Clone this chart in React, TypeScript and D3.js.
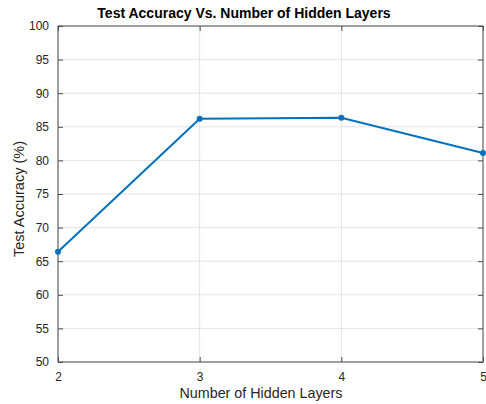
import { useEffect, useRef } from "react";
import * as d3 from "d3";

// data
const hiddenLayers = [2, 3, 4, 5];
const testAccuracy = [66.4, 86.2, 86.35, 81.1];
const xTicks = [2, 3, 4, 5];
const yTicks = [50, 55, 60, 65, 70, 75, 80, 85, 90, 95, 100];

const App = () => {
  const svgRef = useRef<SVGSVGElement>(null);

  useEffect(() => {
    if (!svgRef.current) return;
    const width = 486;
    const height = 404;
    const margin = { top: 26, right: 3, bottom: 42, left: 58 };
    const innerW = width - margin.left - margin.right;
    const innerH = height - margin.top - margin.bottom;

    const svg = d3.select(svgRef.current);
    svg.selectAll("*").remove();
    svg
      .attr("width", width)
      .attr("height", height)
      .style("font-family", "Arial, 'Liberation Sans', sans-serif");

    const x = d3.scaleLinear().domain([2, 5]).range([0, innerW]);
    const y = d3.scaleLinear().domain([50, 100]).range([innerH, 0]);

    const g = svg
      .append("g")
      .attr("transform", `translate(${margin.left},${margin.top})`);

    // grid
    g.append("g")
      .selectAll("line")
      .data(yTicks)
      .join("line")
      .attr("x1", 0)
      .attr("x2", innerW)
      .attr("y1", (d) => y(d))
      .attr("y2", (d) => y(d))
      .attr("stroke", "#e3e3e3")
      .attr("stroke-width", 1);
    g.append("g")
      .selectAll("line")
      .data(xTicks)
      .join("line")
      .attr("x1", (d) => x(d))
      .attr("x2", (d) => x(d))
      .attr("y1", 0)
      .attr("y2", innerH)
      .attr("stroke", "#e3e3e3")
      .attr("stroke-width", 1);

    const axisColor = "#4d4d4d";
    // box
    g.append("rect")
      .attr("width", innerW)
      .attr("height", innerH)
      .attr("fill", "none")
      .attr("stroke", axisColor)
      .attr("stroke-width", 1);

    // axes with inward ticks
    const styleAxis = (sel: d3.Selection<SVGGElement, unknown, null, undefined>) => {
      sel.select(".domain").remove();
      sel.selectAll(".tick line").attr("stroke", axisColor);
      sel
        .selectAll(".tick text")
        .attr("fill", "#262626")
        .style("font-size", "12px");
    };

    g.append("g")
      .attr("transform", `translate(0,${innerH})`)
      .call(d3.axisBottom(x).tickValues(xTicks).tickFormat(d3.format("d")).tickSizeInner(-5).tickSizeOuter(0).tickPadding(10))
      .call(styleAxis);
    g.append("g")
      .call(d3.axisTop(x).tickValues(xTicks).tickFormat(() => "").tickSizeInner(-5).tickSizeOuter(0))
      .call(styleAxis);
    g.append("g")
      .call(d3.axisLeft(y).tickValues(yTicks).tickFormat(d3.format("d")).tickSizeInner(-5).tickSizeOuter(0).tickPadding(9))
      .call(styleAxis);
    g.append("g")
      .attr("transform", `translate(${innerW},0)`)
      .call(d3.axisRight(y).tickValues(yTicks).tickFormat(() => "").tickSizeInner(-5).tickSizeOuter(0))
      .call(styleAxis);

    // line
    const points = hiddenLayers.map((h, i) => [h, testAccuracy[i]] as [number, number]);
    const lineColor = "#0072bd";
    g.append("path")
      .datum(points)
      .attr("fill", "none")
      .attr("stroke", lineColor)
      .attr("stroke-width", 2)
      .attr("d", d3.line<[number, number]>().x((d) => x(d[0])).y((d) => y(d[1])));
    g.append("g")
      .selectAll("circle")
      .data(points)
      .join("circle")
      .attr("cx", (d) => x(d[0]))
      .attr("cy", (d) => y(d[1]))
      .attr("r", 3)
      .attr("fill", lineColor);

    // labels
    svg
      .append("text")
      .attr("x", 244)
      .attr("y", 18)
      .attr("text-anchor", "middle")
      .attr("fill", "#000")
      .style("font-size", "14px")
      .style("font-weight", "bold")
      .text("Test Accuracy Vs. Number of Hidden Layers");
    svg
      .append("text")
      .attr("x", 261)
      .attr("y", 398)
      .attr("text-anchor", "middle")
      .attr("fill", "#262626")
      .style("font-size", "14.3px")
      .text("Number of Hidden Layers");
    svg
      .append("text")
      .attr("transform", `translate(24,199) rotate(-90)`)
      .attr("text-anchor", "middle")
      .attr("fill", "#262626")
      .style("font-size", "14.5px")
      .text("Test Accuracy (%)");
  }, []);

  return (
    <div style={{ position: "absolute", left: 0, top: 0 }}>
      <svg ref={svgRef}></svg>
    </div>
  );
};

export default App;
